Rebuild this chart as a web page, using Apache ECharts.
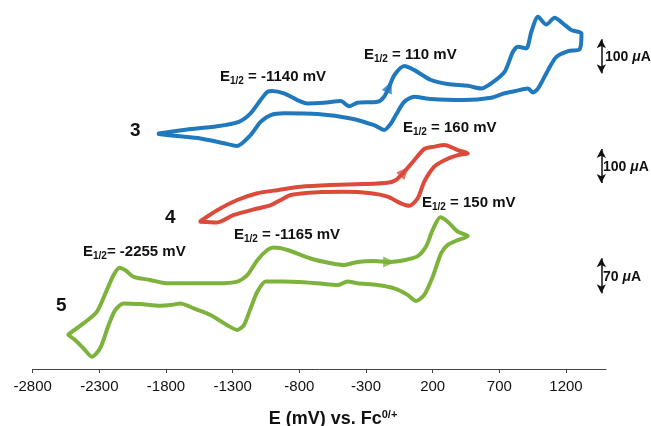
<!DOCTYPE html>
<html>
<head>
<meta charset="utf-8">
<script src="https://cdn.jsdelivr.net/npm/echarts@6/dist/echarts.min.js"></script>
<style>
html,body{margin:0;padding:0;background:#fff;}
#chart{width:651px;height:426px;}
</style>
</head>
<body>
<div id="chart"></div>
<script>
// ---- data (E in mV, current in offset display units; 100 units = 100 µA for curves 3 and 4) ----
const xTicks = [-2800, -2300, -1800, -1300, -800, -300, 200, 700, 1200];

const curve3 = [
  [-1855,693],[-1668,703],[-1416,714],[-1254,727],[-1166,752],[-1091,791],[-1040,815],[-1003,818],
  [-915,811],[-815,791],[-740,781],[-615,783],[-489,788],[-427,773],[-364,783],[-213,786],[-164,801],
  [-126,830],[-88,864],[-13,891],[62,879],[188,850],[313,838],[464,833],[564,825],[639,840],[739,874],
  [802,933],[840,948],[902,943],[940,992],[990,1036],[1052,1013],[1115,1033],[1178,1016],[1240,997],[1316,987],
  [1303,941],[1216,935],[1128,918],[1065,879],[990,825],[952,813],[915,825],[814,817],[739,811],[639,798],
  [438,791],[188,794],[62,801],[-13,786],[-76,747],[-113,722],[-164,703],[-239,717],[-414,737],[-664,750],
  [-915,752],[-1015,747],[-1091,727],[-1166,688],[-1266,656],[-1367,664],[-1542,678],[-1717,685],[-1855,691]
];

const curve4 = [
  [-1542,435],[-1416,467],[-1266,497],[-1115,517],[-965,526],[-790,536],[-564,541],[-314,544],[-138,548],
  [-76,556],[-13,580],[62,614],[137,647],[212,654],[288,659],[388,644],[464,634],
  [388,629],[288,614],[212,595],[137,551],[88,502],[25,480],[-38,487],[-138,507],[-264,517],[-464,521],
  [-664,520],[-865,512],[-940,497],[-1015,482],[-1115,472],[-1291,453],[-1416,431],[-1542,433]
];

const curve5 = [
  [-2532,102],[-2420,134],[-2319,168],[-2244,232],[-2194,276],[-2149,298],[-2106,291],[-2043,271],
  [-1918,262],[-1792,252],[-1617,252],[-1416,252],[-1266,257],[-1191,276],[-1115,320],[-1040,350],
  [-991,357],[-890,350],[-715,325],[-564,311],[-464,306],[-364,315],[-239,318],[-126,315],[-13,320],
  [88,332],[150,360],[200,409],[258,446],[313,433],[388,404],[464,391],
  [388,379],[313,365],[263,340],[200,271],[137,218],[75,200],[12,218],[-88,237],[-213,247],[-364,252],
  [-439,257],[-514,247],[-664,252],[-915,257],[-1053,257],[-1115,227],[-1166,178],[-1216,129],[-1266,115],
  [-1341,129],[-1467,159],[-1592,178],[-1692,193],[-1767,188],[-1843,186],[-1993,191],[-2119,193],
  [-2181,173],[-2231,129],[-2294,61],[-2356,36],[-2420,61],[-2482,85],[-2532,100]
];

// scan-direction arrows: [E, current, rotation]
const arrows = [
  [-126, 830, -24, 'blue'],
  [-13, 580, -42, 'red'],
  [-126, 315, -90, 'green']
];

// scale bars: [E, from, to, label]
const scaleBars = [
  [1465, 870, 970, '100'],
  [1465, 547, 647, '100'],
  [1465, 223, 326, '70']
];

const COLORS = {blue:'#2079bc', red:'#dc4a3c', green:'#7db23c'};
const FONT = '"Liberation Sans", Arial, Helvetica, sans-serif';

const chart = echarts.init(document.getElementById('chart'), null, {renderer:'canvas'});

function curveSeries(data, color){
  return {
    type:'line', data:data, smooth:0.25, showSymbol:false, silent:true,
    lineStyle:{width:4, color:color, cap:'round', join:'round'},
    itemStyle:{color:color}, z:2
  };
}

function ehalf(val, x, y, noSpace){
  return {
    type:'text', x:x, y:y, z:10,
    style:{
      text:'{e|E}{s|1/2}{e|' + (noSpace ? '= ' : ' = ') + val + ' mV}',
      verticalAlign:'middle', align:'left',
      rich:{
        e:{fontFamily:FONT, fontSize:15, fontWeight:'bold', fill:'#111', color:'#111'},
        s:{fontFamily:FONT, fontSize:10, fontWeight:'bold', fill:'#111', color:'#111', padding:[8,0,0,0]}
      }
    }
  };
}

function numLabel(t, x, y){
  return {type:'text', x:x, y:y, z:10, style:{text:t, font:'bold 19px ' + FONT, fill:'#111', verticalAlign:'middle', align:'left'}};
}

function barLabel(t, x, y){
  return {
    type:'text', x:x, y:y, z:10,
    style:{
      text:'{n|' + t + ' }{u|μ}{n|A}', verticalAlign:'middle', align:'left',
      rich:{
        n:{fontFamily:FONT, fontSize:14, fontWeight:'bold', fill:'#111', color:'#111'},
        u:{fontFamily:FONT, fontSize:14, fontWeight:'bold', fontStyle:'italic', fill:'#111', color:'#111'}
      }
    }
  };
}

const option = {
  animation:false,
  backgroundColor:'#fff',
  grid:{left:32.7, right:45, top:12, bottom:57, containLabel:false},
  xAxis:{
    type:'value', min:-2800, max:1500, interval:500,
    axisLine:{show:true, lineStyle:{color:'#444', width:1}},
    axisTick:{show:true, length:4, customValues:xTicks, lineStyle:{color:'#444', width:1}},
    axisLabel:{customValues:xTicks, fontFamily:FONT, fontSize:15, color:'#111', margin:10,
      formatter: v => String(v)},
    splitLine:{show:false}
  },
  yAxis:{type:'value', min:0, max:1050, show:false, splitLine:{show:false}},
  series:[
    curveSeries(curve3, COLORS.blue),
    curveSeries(curve4, COLORS.red),
    curveSeries(curve5, COLORS.green),
    {
      type:'scatter', symbol:'triangle', symbolSize:[11,12], silent:true, z:3,
      data: arrows.map(a => ({value:[a[0], a[1]], symbolRotate:a[2], itemStyle:{color:COLORS[a[3]]}}))
    },
    {
      type:'line', data:[], silent:true,
      markLine:{
        silent:true, symbol:['arrow','arrow'], symbolSize:[7,9], precision:4,
        label:{show:false},
        lineStyle:{color:'#111', width:1.5, type:'solid'},
        data: scaleBars.map(b => [{coord:[b[0], b[1]]}, {coord:[b[0], b[2]]}])
      }
    }
  ],
  graphic:[
    ehalf('-1140', 220, 77),
    ehalf('110', 364, 55),
    ehalf('160', 403, 128),
    ehalf('150', 422, 203),
    ehalf('-1165', 234, 235),
    ehalf('-2255', 83, 252, true),
    numLabel('3', 130, 131),
    numLabel('4', 165, 218),
    numLabel('5', 56, 306),
    barLabel(scaleBars[0][3], 605, 57),
    barLabel(scaleBars[1][3], 603, 167),
    barLabel(scaleBars[2][3], 603, 277),
    {
      type:'text', x:333, y:419, z:10,
      style:{
        text:'{t|E (mV) vs. Fc}{p|0/+}', align:'center', verticalAlign:'middle',
        rich:{
          t:{fontFamily:FONT, fontSize:18, fontWeight:'bold', fill:'#111', color:'#111'},
          p:{fontFamily:FONT, fontSize:11, fontWeight:'bold', fill:'#111', color:'#111', padding:[0,0,9,0]}
        }
      }
    }
  ]
};
chart.setOption(option);
</script>
</body>
</html>
